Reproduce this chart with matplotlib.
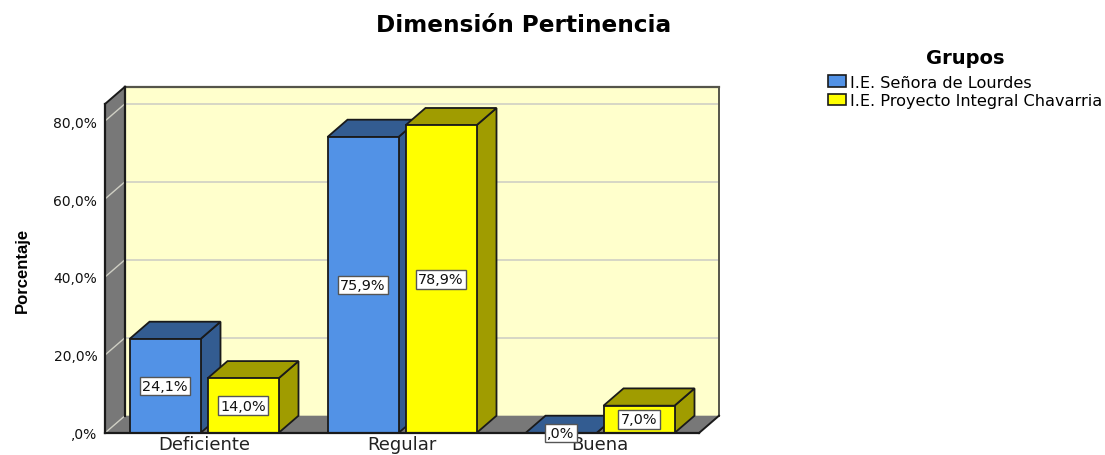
import matplotlib
matplotlib.use("Agg")
from matplotlib import pyplot as plt
import matplotlib.patches as patches

categories = ["Deficiente", "Regular", "Buena"]
group_names = ["I.E. Señora de Lourdes", "I.E. Proyecto Integral Chavarria"]
senora = [24.1, 75.9, 0.0]
proyecto = [14.0, 78.9, 7.0]
y_ticks = [0, 20, 40, 60, 80]
y_tick_labels = [",0%", "20,0%", "40,0%", "60,0%", "80,0%"]

W, H = 1105, 456
BLUE, BLUE_DARK = "#5292E6", "#335C91"
YELLOW, YELLOW_DARK = "#FFFF00", "#A09C00"
WALL, GREY, GRID = "#FFFFCC", "#787878", "#CFCFC4"
EDGE = "#1A1A1A"

fig = plt.figure(figsize=(W / 100, H / 100), dpi=100, facecolor="white")
# front plane of the fake 3d box
ax = fig.add_axes([105 / W, 1 - 434 / H, 594 / W, 329 / H])
ax.set_xlim(-0.5, 2.5)
ax.set_ylim(0, 329 / 3.9)
ax.patch.set_visible(False)
for s in ax.spines.values():
    s.set_visible(False)

# depth of the box and of the bars, in data units
DX = 20 / 198
DY = 17.3 / 3.9
BAR_W = 71 / 198
BAR_OFF = 39 / 198
x0, x1 = ax.get_xlim()
y0, y1 = ax.get_ylim()


def poly(pts, fc, ec="none", lw=0.0, z=1):
    ax.add_patch(patches.Polygon(pts, closed=True, facecolor=fc, edgecolor=ec,
                                 linewidth=lw, zorder=z, clip_on=False))


# walls and floor
poly([(x0 + DX, y0 + DY), (x1 + DX, y0 + DY), (x1 + DX, y1 + DY), (x0 + DX, y1 + DY)], WALL, z=1)
poly([(x0, y0), (x0 + DX, y0 + DY), (x0 + DX, y1 + DY), (x0, y1)], GREY, z=1)
poly([(x0, y0), (x1, y0), (x1 + DX, y0 + DY), (x0 + DX, y0 + DY)], GREY, z=1)

for t in y_ticks[1:]:
    ax.plot([x0 + DX, x1 + DX], [t + DY, t + DY], color=GRID, lw=1.2, zorder=2, clip_on=False)
for t in y_ticks:
    ax.plot([x0, x0 + DX], [t, t + DY], color=GRID, lw=1.0, zorder=2, clip_on=False)

# box outline
ax.plot([x0 + DX, x1 + DX], [y1 + DY, y1 + DY], color="#55554A", lw=1.6, zorder=3, clip_on=False)
ax.plot([x1 + DX, x1 + DX], [y0 + DY, y1 + DY], color="#55554A", lw=1.4, zorder=3, clip_on=False)
ax.plot([x0 + DX, x0 + DX], [y0 + DY, y1 + DY], color=EDGE, lw=1.6, zorder=3, clip_on=False)
ax.plot([x0, x0 + DX], [y1, y1 + DY], color=EDGE, lw=1.4, zorder=3, clip_on=False)
ax.plot([x0, x0], [y0, y1], color=EDGE, lw=1.6, zorder=3, clip_on=False)
ax.plot([x0, x1], [y0, y0], color=EDGE, lw=1.6, zorder=9, clip_on=False)
ax.plot([x1, x1 + DX], [y0, y0 + DY], color=EDGE, lw=1.4, zorder=3, clip_on=False)

# bars, left to right
series = [(senora, -BAR_OFF, BLUE, BLUE_DARK), (proyecto, BAR_OFF, YELLOW, YELLOW_DARK)]
for i in range(len(categories)):
    for vals, off, col, dark in series:
        v = vals[i]
        l = i + off - BAR_W / 2
        r = i + off + BAR_W / 2
        z = 4 + i + (off > 0)
        poly([(r, 0), (r + DX, DY), (r + DX, v + DY), (r, v)], dark, EDGE, 1.3, z=z)
        poly([(l, v), (r, v), (r + DX, v + DY), (l + DX, v + DY)], dark, EDGE, 1.3, z=z)
        if v > 0:
            ax.bar(i + off, v, BAR_W, color=col, edgecolor=EDGE, linewidth=1.3,
                   zorder=z, clip_on=False)
        label = (f"{v:.1f}%").replace(".", ",")
        if v == 0:
            label = ",0%"
        ax.text(i + off, v / 2, label, ha="center", va="center", fontsize=10.4, zorder=12,
                color="#111111", clip_on=False,
                bbox=dict(boxstyle="square,pad=0.17", fc="white", ec="#555555", lw=1.0))

ax.set_xticks(range(len(categories)))
ax.set_xticklabels(categories, fontsize=13, color="#222222")
ax.set_yticks(y_ticks)
ax.set_yticklabels(y_tick_labels, fontsize=10, color="#111111")
ax.tick_params(axis="x", length=0, pad=1.5)
ax.tick_params(axis="y", length=0, pad=5.5)

fig.text(523.5 / W, 1 - 26 / H, "Dimensión Pertinencia", ha="center", va="center",
         fontsize=16.7, fontweight="bold", color="black")
fig.text(22 / W, 1 - 270 / H, "Porcentaje", rotation=90, ha="center", va="center",
         fontsize=12, fontweight="bold", color="black",
         family=["Liberation Sans Narrow", "Liberation Sans"])

handles = [patches.Patch(facecolor=BLUE, edgecolor=EDGE, linewidth=1.2),
           patches.Patch(facecolor=YELLOW, edgecolor=EDGE, linewidth=1.2)]
fig.legend(handles, group_names, loc="upper left", bbox_to_anchor=(823 / W, 1 - 71 / H),
           frameon=False, fontsize=11.6, handlelength=1.12, handleheight=0.75,
           handletextpad=0.25, labelspacing=0.2, borderpad=0.3, borderaxespad=0)
fig.text(965 / W, 1 - 59 / H, "Grupos", ha="center", va="center", fontsize=14, fontweight="bold")

fig.savefig("out.png", dpi=100)
